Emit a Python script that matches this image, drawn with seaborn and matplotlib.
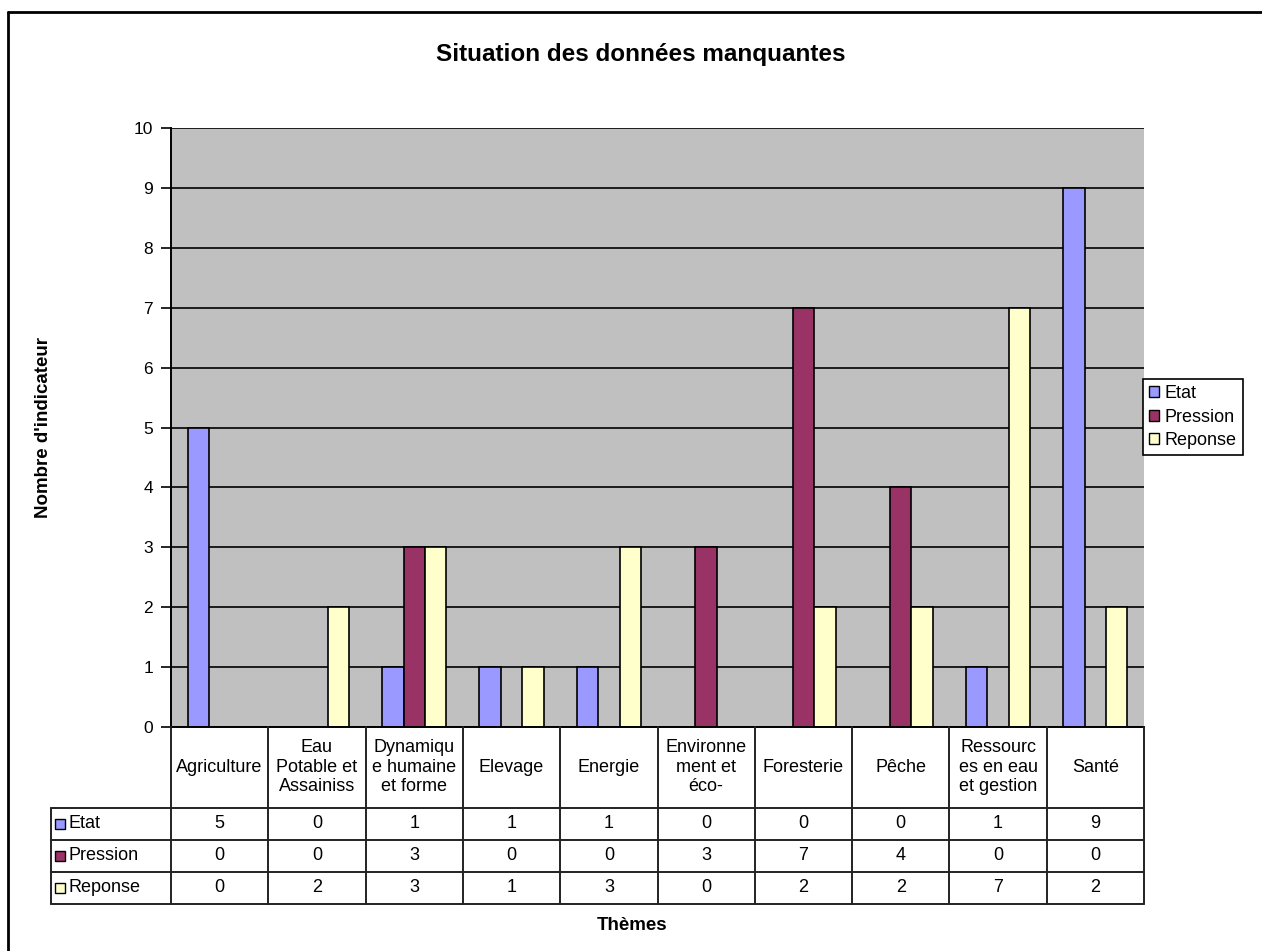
import matplotlib
matplotlib.use("Agg")
import matplotlib.pyplot as plt
from matplotlib.lines import Line2D
from matplotlib.patches import Patch
import seaborn as sns
import pandas as pd

# data
themes = ["Agriculture", "Eau Potable et Assainiss", "Dynamique humaine et forme",
          "Elevage", "Energie", "Environnement et éco-", "Foresterie", "Pêche",
          "Ressources en eau et gestion", "Santé"]
theme_labels = ["Agriculture", "Eau\nPotable et\nAssainiss", "Dynamiqu\ne humaine\net forme",
                "Elevage", "Energie", "Environne\nment et\néco-", "Foresterie", "Pêche",
                "Ressourc\nes en eau\net gestion", "Santé"]
series = ["Etat", "Pression", "Reponse"]
etat = [5, 0, 1, 1, 1, 0, 0, 0, 1, 9]
pression = [0, 0, 3, 0, 0, 3, 7, 4, 0, 0]
reponse = [0, 2, 3, 1, 3, 0, 2, 2, 7, 2]
colors = ["#9999FF", "#993366", "#FFFFCC"]

df = pd.DataFrame({"theme": themes, "Etat": etat, "Pression": pression, "Reponse": reponse})
long = df.melt(id_vars="theme", var_name="serie", value_name="n")

sns.set_style("white")
plt.rcParams["font.family"] = ["Liberation Sans", "DejaVu Sans"]
plt.rcParams["text.color"] = "black"
plt.rcParams["ytick.labelcolor"] = "black"

W, H = 1262, 951
fig = plt.figure(figsize=(W / 100, H / 100), dpi=100)

def fx(x):
    return x / W

def fy(y):
    return 1 - y / H

FS = 13
L, R, T, B = 171, 1144, 128, 727
ax = fig.add_axes([fx(L), fy(B), fx(R) - fx(L), fy(T) - fy(B)])
ax.set_facecolor("#C0C0C0")
ax.set_axisbelow(True)
ax.yaxis.grid(True, color="black", linewidth=1.2)

sns.barplot(data=long, x="theme", y="n", hue="serie", order=themes, hue_order=series,
            palette=colors, saturation=1, width=0.66, edgecolor="black", linewidth=1.2,
            legend=False, ax=ax)

ax.set_ylim(0, 10)
ax.set_xlim(-0.5, len(themes) - 0.5)
ax.set_yticks(range(0, 11))
ax.tick_params(axis="y", labelsize=12.5, length=7, width=1.2, color="black",
               labelcolor="black", direction="out", pad=6, left=True)
ax.set_xticks([])
ax.set_xlabel("")
ax.set_ylabel("")
for s in ["top", "right"]:
    ax.spines[s].set_visible(False)
ax.spines["left"].set_color("black")
ax.spines["left"].set_linewidth(1.4)
ax.spines["bottom"].set_color("black")
ax.spines["bottom"].set_linewidth(1.4)

# data table below the chart
cw = (R - L) / len(themes)
rows_y = [808, 840, 872, 904]
lc = "#222222"

def hline(x0, x1, y, lw=1.4):
    fig.add_artist(Line2D([fx(x0), fx(x1)], [fy(y), fy(y)], color=lc, linewidth=lw))

def vline(x, y0, y1, lw=1.4):
    fig.add_artist(Line2D([fx(x), fx(x)], [fy(y0), fy(y1)], color=lc, linewidth=lw))

for y in rows_y:
    hline(51, R, y)
vline(51, 808, 904)
for k in range(len(themes) + 1):
    vline(L + k * cw, B, 904)

for i, lab in enumerate(theme_labels):
    fig.text(fx(L + (i + 0.5) * cw), fy(767), lab, ha="center", va="center",
             fontsize=FS, linespacing=1.2)

values = [etat, pression, reponse]
for r, name in enumerate(series):
    yc = (rows_y[r] + rows_y[r + 1]) / 2
    fig.add_artist(plt.Rectangle((fx(55), fy(yc + 5)), fx(10), 10 / H,
                                 facecolor=colors[r], edgecolor="black", linewidth=1))
    fig.text(fx(69), fy(yc), name, ha="left", va="center", fontsize=FS)
    for i, v in enumerate(values[r]):
        fig.text(fx(L + (i + 0.5) * cw), fy(yc), str(v), ha="center", va="center", fontsize=FS)

# titles
fig.text(fx(641), fy(55), "Situation des données manquantes", ha="center", va="center",
         fontsize=17.5, fontweight="bold")
fig.text(fx(632), fy(925), "Thèmes", ha="center", va="center", fontsize=13.5, fontweight="bold")
fig.text(fx(43), fy(428), "Nombre d'indicateur", ha="center", va="center", rotation=90,
         fontsize=13.5, fontweight="bold")

# legend
handles = [Patch(facecolor=c, edgecolor="black", linewidth=1, label=s) for c, s in zip(colors, series)]
leg = fig.legend(handles=handles, loc="upper left", bbox_to_anchor=(fx(1143), fy(379)),
                 frameon=True, fancybox=False, edgecolor="black", framealpha=1,
                 fontsize=FS, handlelength=0.55, handleheight=0.55, handletextpad=0.3,
                 labelspacing=0.35, borderpad=0.35, borderaxespad=0)
leg.get_frame().set_linewidth(1.2)

# outer chart border
fig.add_artist(Line2D([fx(8), 1], [fy(12), fy(12)], color="black", linewidth=2))
fig.add_artist(Line2D([fx(8), fx(8)], [fy(12), 0], color="black", linewidth=2))

fig.savefig("out.png", dpi=100)
